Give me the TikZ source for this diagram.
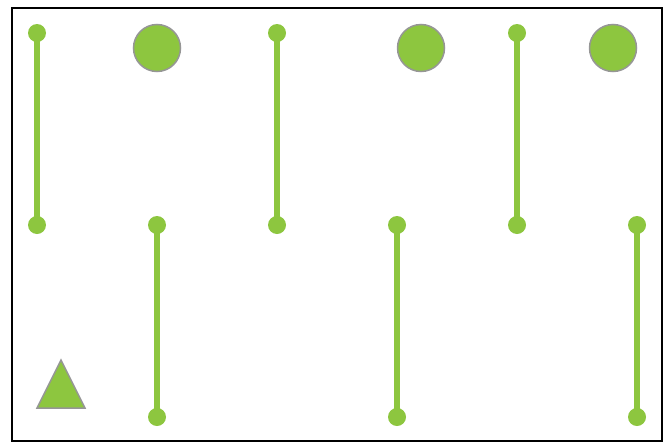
\documentclass[tikz,border=0pt]{standalone}
\usetikzlibrary{positioning}
\definecolor{leafgreen}{RGB}{141,198,63}
\definecolor{rimgray}{RGB}{150,150,150}
\tikzset{
  % End point of a rod
  rodend/.style={circle, fill=leafgreen, minimum size=18pt, inner sep=0pt},
  rod/.style={line width=6pt, draw=leafgreen},
  % Large ball and marker
  ball/.style={circle, fill=leafgreen, draw=rimgray, line width=1.5pt, minimum size=47pt, inner sep=0pt},
  marker/.style={fill=leafgreen, draw=rimgray, line width=1.5pt, line join=miter}
}
\begin{document}
\begin{tikzpicture}[x=1pt, y=-1pt]
  \useasboundingbox (0,0) rectangle (666,442);
  % Frame
  \draw[line width=2pt] (12,8) rectangle (662,441);

  % Upper rods
  \node[rodend] (a1) at (37,33) {};
  \node[rodend] (a2) at (37,225) {};
  \node[rodend] (b1) at (277,33) {};
  \node[rodend] (b2) at (277,225) {};
  \node[rodend] (c1) at (517,33) {};
  \node[rodend] (c2) at (517,225) {};

  % Lower rods
  \node[rodend] (d1) at (157,225) {};
  \node[rodend] (d2) at (157,417) {};
  \node[rodend] (e1) at (397,225) {};
  \node[rodend] (e2) at (397,417) {};
  \node[rodend] (f1) at (637,225) {};
  \node[rodend] (f2) at (637,417) {};

  \draw[rod] (a1.center) -- (a2.center);
  \draw[rod] (b1.center) -- (b2.center);
  \draw[rod] (c1.center) -- (c2.center);
  \draw[rod] (d1.center) -- (d2.center);
  \draw[rod] (e1.center) -- (e2.center);
  \draw[rod] (f1.center) -- (f2.center);

  % Balls
  \node[ball] (ball1) at (157,48) {};
  \node[ball] (ball2) at (421,48) {};
  \node[ball] (ball3) at (613,48) {};

  % Triangle
  \draw[marker] (37,408) -- (61,360) -- (85,408) -- cycle;
\end{tikzpicture}
\end{document}
